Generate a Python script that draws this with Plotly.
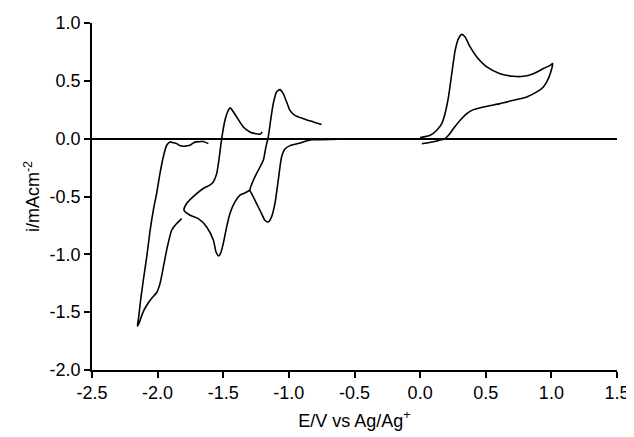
import plotly.graph_objects as go

# ---- data (E in V vs Ag/Ag+, i in mA cm^-2) ----
cv1_E = [-0.62, -0.75, -0.82, -0.87, -0.92, -0.99, -1.03, -1.056, -1.081, -1.106, -1.132, -1.157,
         -1.183, -1.208, -1.246, -1.284, -1.297,
         -1.271, -1.233, -1.195, -1.175, -1.157, -1.139, -1.119, -1.094, -1.068, -1.043, -1.017,
         -0.992, -0.954, -0.89, -0.814, -0.751]
cv1_i = [-0.005, -0.008, -0.01, -0.02, -0.04, -0.06, -0.09, -0.16, -0.36, -0.56, -0.676, -0.72,
         -0.705, -0.648, -0.561, -0.475, -0.446,
         -0.36, -0.273, -0.187, -0.071, 0.015, 0.159, 0.303, 0.404, 0.424, 0.389, 0.317,
         0.245, 0.202, 0.173, 0.145, 0.122]

cv2_E = [-1.297, -1.335, -1.373, -1.411, -1.449, -1.474, -1.50, -1.52, -1.535, -1.555, -1.575,
         -1.626, -1.69, -1.753, -1.799,
         -1.779, -1.703, -1.652, -1.60, -1.576, -1.55, -1.53, -1.512, -1.487, -1.462, -1.447,
         -1.425, -1.398, -1.347, -1.297, -1.259, -1.22, -1.203]
cv2_i = [-0.446, -0.469, -0.489, -0.547, -0.647, -0.763, -0.907, -0.99, -1.015, -0.98, -0.878,
         -0.763, -0.691, -0.662, -0.619,
         -0.561, -0.475, -0.431, -0.40, -0.374, -0.302, -0.158, 0.0, 0.159, 0.245, 0.266,
         0.235, 0.188, 0.101, 0.058, 0.044, 0.038, 0.058]

cv3_E = [-1.817, -1.855, -1.893, -1.926, -1.956, -1.982, -2.007, -2.045, -2.083, -2.115, -2.14, -2.154,
         -2.145, -2.13, -2.109, -2.083, -2.058, -2.03, -2.007, -1.982, -1.957, -1.931, -1.906,
         -1.88, -1.855, -1.83, -1.804, -1.78, -1.754, -1.725, -1.703, -1.652, -1.614]
cv3_i = [-0.691, -0.734, -0.792, -0.936, -1.109, -1.253, -1.33, -1.38, -1.44, -1.51, -1.59, -1.62,
         -1.55, -1.40, -1.224, -1.022, -0.80, -0.60, -0.47, -0.30, -0.158, -0.057, -0.028,
         -0.035, -0.043, -0.06, -0.066, -0.062, -0.057, -0.035, -0.028, -0.025, -0.043]

cv4_E = [0.00, 0.076, 0.127, 0.165, 0.19, 0.216, 0.241, 0.267, 0.292, 0.317, 0.343, 0.381, 0.432,
         0.508, 0.609, 0.711, 0.787, 0.863, 0.939, 0.99, 1.01,
         1.003, 0.977, 0.939, 0.889, 0.812, 0.711, 0.609, 0.508, 0.406, 0.355, 0.305, 0.254,
         0.216, 0.19, 0.127, 0.05, 0.013]
cv4_i = [0.009, 0.029, 0.073, 0.130, 0.217, 0.361, 0.562, 0.764, 0.865, 0.902, 0.879, 0.793, 0.706,
         0.620, 0.562, 0.539, 0.539, 0.562, 0.606, 0.634, 0.649,
         0.606, 0.519, 0.447, 0.404, 0.361, 0.332, 0.303, 0.280, 0.251, 0.217, 0.159, 0.087,
         0.029, 0.0, -0.02, -0.037, -0.043]

x_ticks = [-2.5, -2.0, -1.5, -1.0, -0.5, 0.0, 0.5, 1.0, 1.5]
x_labels = ["-2.5", "-2.0", "-1.5", "-1.0", "-0.5", "0.0", "0.5", "1.0", "1.5"]
y_ticks = [1.0, 0.5, 0.0, -0.5, -1.0, -1.5, -2.0]
y_labels = ["1.0", "0.5", "0.0", "-0.5", "-1.0", "-1.5", "-2.0"]

FONT = "Arial, Liberation Sans, sans-serif"
line_style = dict(color="black", width=1.6)

fig = go.Figure()
for E, I in [(cv1_E, cv1_i), (cv2_E, cv2_i), (cv3_E, cv3_i), (cv4_E, cv4_i)]:
    fig.add_trace(go.Scatter(x=E, y=I, mode="lines", line=dict(shape="spline", smoothing=0.6, **line_style),
                             showlegend=False, hoverinfo="skip", cliponaxis=False))

# page body has an 8px margin, so the figure is sized to fit inside the window
fig.update_layout(
    width=626, height=429,
    margin=dict(l=84, r=17, t=15, b=67, autoexpand=False),
    paper_bgcolor="white", plot_bgcolor="white",
    font=dict(family=FONT, size=18, color="black"),
    xaxis=dict(range=[-2.5, 1.5], tickvals=x_ticks, ticktext=x_labels, automargin=False,
               showgrid=False, zeroline=False, showline=True, linecolor="black", linewidth=1.5,
               ticks="outside", ticklen=6, tickwidth=1.5, tickcolor="black",
               title=dict(text="E/V vs Ag/Ag<sup>+</sup>", font=dict(size=18), standoff=12)),
    yaxis=dict(range=[-2.0, 1.0], tickvals=y_ticks, ticktext=y_labels, automargin=False,
               showgrid=False, zeroline=True, zerolinecolor="black", zerolinewidth=1.5,
               showline=True, linecolor="black", linewidth=1.5,
               ticks="outside", ticklen=6, tickwidth=1.5, tickcolor="black",
               title=dict(text="i/mAcm<sup>-2</sup>", font=dict(size=18), standoff=5)),
)

fig.write_html("out.html")
